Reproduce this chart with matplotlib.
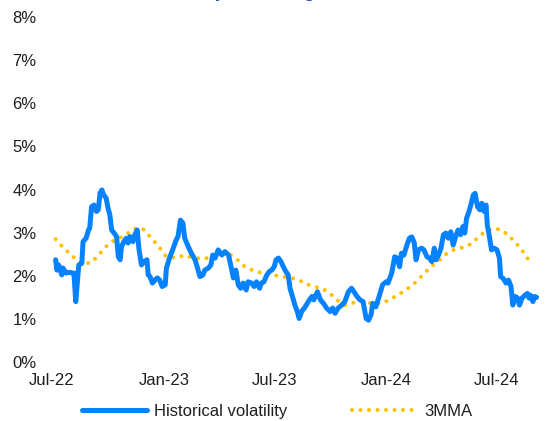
import matplotlib
matplotlib.use("Agg")
import matplotlib.pyplot as plt
import matplotlib.dates as mdates
import numpy as np
import pandas as pd

# Data (days after 1 Jul 2022, volatility in %)
start = pd.Timestamp("2022-07-01")

hv_days = [6, 8, 11, 16, 18, 23, 26, 32, 36, 39, 42, 44, 49, 51, 56, 60, 62, 65,
           69, 73, 76, 79, 82, 85, 89, 92, 95, 98, 102, 106, 109, 112, 114, 118,
           122, 125, 128, 133, 136, 140, 143, 147, 151, 156, 158, 161, 165, 169,
           173, 177, 181, 186, 188, 193, 197, 200, 204, 207, 211, 215, 218, 224,
           229, 235, 239, 243, 248, 251, 257, 261, 264, 268, 273, 279, 284, 290,
           294, 298, 302, 306, 310, 314, 319, 322, 328, 332, 336, 341, 344, 348,
           353, 357, 361, 365, 368, 372, 376, 380, 384, 388, 391, 395, 399, 403,
           406, 410, 416, 421, 427, 430, 436, 441, 446, 451, 457, 461, 465, 470,
           476, 481, 487, 492, 496, 501, 506, 511, 516, 520, 524, 527, 532, 538,
           543, 549, 552, 558, 563, 567, 571, 574, 578, 583, 587, 591, 595, 598,
           602, 607, 611, 616, 620, 624, 628, 631, 635, 639, 643, 647, 651, 655,
           659, 664, 667, 671, 675, 678, 681, 685, 688, 692, 695, 699, 703, 706,
           710, 713, 715, 718, 722, 726, 731, 735, 737, 741, 746, 750, 754, 757,
           761, 765, 768, 772, 777, 781, 784, 786, 790, 793, 796]
hv_values = [2.37, 2.13, 2.25, 2.02, 2.18, 2.06, 2.08, 2.07, 2.06, 1.40, 1.90, 2.25,
             2.29, 2.79, 2.87, 3.06, 3.11, 3.60, 3.64, 3.49, 3.53, 3.92, 3.99, 3.87,
             3.80, 3.57, 3.41, 3.06, 2.99, 2.91, 2.44, 2.37, 2.67, 2.79, 2.87, 2.76,
             2.91, 2.79, 2.95, 3.06, 2.60, 2.25, 2.33, 2.37, 2.02, 1.98, 1.83, 1.90,
             1.95, 1.90, 1.75, 1.79, 2.18, 2.41, 2.56, 2.67, 2.83, 2.91, 3.29, 3.22,
             2.87, 2.67, 2.52, 2.37, 2.18, 1.98, 2.02, 2.13, 2.18, 2.25, 2.48, 2.41,
             2.60, 2.48, 2.56, 2.48, 2.21, 1.95, 2.13, 1.79, 1.71, 1.83, 1.67, 1.86,
             1.83, 1.75, 1.86, 1.71, 1.83, 1.86, 2.02, 2.10, 2.13, 2.21, 2.37, 2.41,
             2.33, 2.21, 2.10, 2.02, 1.71, 1.52, 1.32, 1.17, 1.01, 1.17, 1.28, 1.40,
             1.52, 1.44, 1.63, 1.44, 1.36, 1.25, 1.17, 1.25, 1.13, 1.25, 1.32, 1.40,
             1.63, 1.71, 1.63, 1.52, 1.44, 1.40, 1.01, 0.97, 1.09, 1.36, 1.28, 1.55,
             1.79, 1.86, 1.83, 2.06, 2.44, 2.41, 2.21, 2.52, 2.48, 2.71, 2.87, 2.90,
             2.77, 2.37, 2.60, 2.64, 2.60, 2.44, 2.41, 2.33, 2.64, 2.37, 2.48, 2.64,
             2.95, 2.99, 2.87, 3.02, 2.71, 2.95, 3.06, 2.95, 3.14, 2.99, 3.33, 3.49,
             3.64, 3.87, 3.91, 3.60, 3.53, 3.68, 3.49, 3.64, 3.18, 2.95, 2.60, 2.64,
             2.60, 2.41, 1.98, 1.94, 1.83, 1.90, 1.75, 1.32, 1.52, 1.48, 1.32, 1.48,
             1.55, 1.59, 1.48, 1.55, 1.40, 1.52, 1.50]

mma_days = [6, 16, 27, 38, 50, 65, 76, 86, 97, 109, 123, 135, 149, 159, 169, 179,
            188, 203, 217, 232, 248, 262, 276, 291, 304, 315, 329, 343, 358, 373,
            388, 403, 417, 431, 446, 458, 470, 482, 497, 511, 527, 542, 555, 568,
            581, 593, 603, 614, 625, 637, 648, 661, 676, 689, 700, 712, 726, 739,
            751, 762, 771, 780, 788]
mma_values = [2.85, 2.69, 2.54, 2.40, 2.27, 2.31, 2.47, 2.64, 2.78, 2.86, 2.97, 3.09,
              3.09, 2.94, 2.78, 2.61, 2.44, 2.42, 2.47, 2.42, 2.39, 2.43, 2.51, 2.50,
              2.38, 2.23, 2.13, 2.07, 2.03, 1.99, 1.96, 1.92, 1.81, 1.75, 1.69, 1.57,
              1.42, 1.32, 1.38, 1.41, 1.35, 1.36, 1.45, 1.55, 1.67, 1.79, 1.93, 2.09,
              2.24, 2.37, 2.51, 2.61, 2.66, 2.74, 2.89, 3.03, 3.10, 3.06, 2.92, 2.76,
              2.61, 2.43, 2.24]

tick_dates = ["2022-07-01", "2023-01-01", "2023-07-01", "2024-01-01", "2024-07-01"]
y_ticks = [0, 1, 2, 3, 4, 5, 6, 7, 8]

title = "Historical volatility trending lower"

hv_dates = start + pd.to_timedelta(hv_days, unit="D")
mma_dates = start + pd.to_timedelta(mma_days, unit="D")

BLUE = "#0782FF"
GOLD = "#FFC000"
TEXT = "#1e1e1e"

plt.rcParams["font.family"] = ["Liberation Sans", "DejaVu Sans"]

fig = plt.figure(figsize=(5.58, 4.21), dpi=100)
ax = fig.add_axes([52 / 558, 1 - 362 / 421, 487 / 558, 345 / 421])

ax.plot(hv_dates, hv_values, color=BLUE, linewidth=3.6,
        solid_joinstyle="round", solid_capstyle="round",
        label="Historical volatility", zorder=3)
ax.plot(mma_dates, mma_values, color=GOLD, linewidth=2.9,
        dashes=(0.01, 2.1), dash_capstyle="round",
        label="3MMA", zorder=2)

ax.set_ylim(0, 8)
ax.set_yticks(y_ticks)
ax.set_yticklabels([f"{v}%" for v in y_ticks])

ax.set_xlim(start, start + pd.Timedelta(days=800))
ax.set_xticks(pd.to_datetime(tick_dates))
ax.xaxis.set_major_formatter(mdates.DateFormatter("%b-%y"))

for side in ax.spines.values():
    side.set_visible(False)
ax.tick_params(axis="both", length=0, labelsize=12, colors=TEXT)
ax.tick_params(axis="y", pad=11)
ax.tick_params(axis="x", pad=8)

# Title sits above the canvas edge, only its descenders show (as in the reference)
fig.text(45 / 558, 1 + 4.5 / 421, title, fontsize=16.5, color="#1f4fa8",
         ha="left", va="baseline")

fig.legend(loc="center", bbox_to_anchor=(0.497, 0.022), ncol=2, frameon=False,
           fontsize=12, handlelength=3.9, handletextpad=0.4, columnspacing=3.9,
           borderpad=0, labelcolor=TEXT)

fig.savefig("out.png", dpi=100)
